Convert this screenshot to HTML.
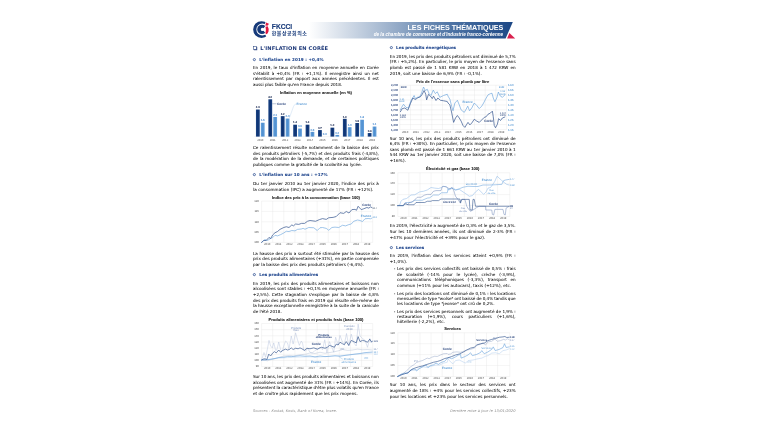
<!DOCTYPE html>
<html lang="fr">
<head>
<meta charset="utf-8">
<title>L'inflation en Corée</title>
<style>
html,body{margin:0;padding:0;background:#fff;}
body{width:768px;height:432px;overflow:hidden;position:relative;}
#page{position:absolute;left:0;top:0;width:768px;height:432px;overflow:hidden;font-family:"DejaVu Sans","Liberation Sans",sans-serif;}
header,section,footer,figure,figcaption,p,ul,li,h1,h2{margin:0;padding:0;font:inherit;list-style:none;}
.ln{display:block;position:absolute;white-space:nowrap;line-height:0;height:0;margin:0;padding:0;}
.ln.t{font-size:4.12px;color:#111;-webkit-text-stroke:0.05px #111;}
.ln.h1{font-size:5.13px;font-weight:bold;color:#1f3a7a;letter-spacing:0.11px;}
.ln.h2{font-size:4.1px;font-weight:bold;color:#1d448c;-webkit-text-stroke:0.05px #1d448c;}
.ln.src{font-size:3.6px;font-style:italic;color:#8a8a8a;letter-spacing:0.07px;}
.ln.ct{font-family:"Liberation Sans",sans-serif;font-weight:bold;font-size:4.1px;color:#111;text-align:center;-webkit-text-stroke:0.06px #111;}
.ln.bt{font-family:"Liberation Sans",sans-serif;font-weight:bold;color:#fff;}
svg{position:absolute;overflow:visible;}
svg text{font-family:"Liberation Sans",sans-serif;}

</style>
</head>
<body>
<div id="page">
<header>
<svg style="left:0;top:0" width="768" height="60" viewBox="0 0 768 60">
<defs><linearGradient id="bg" x1="0" x2="1" y1="0" y2="0">
<stop offset="0" stop-color="#ffffff"/><stop offset="0.35" stop-color="#a9bbd2"/><stop offset="0.7" stop-color="#4d73a4"/><stop offset="1" stop-color="#1c4785"/></linearGradient></defs>
<polygon points="309,22 512.8,22 505.6,38.4 309,38.4" fill="url(#bg)"/>
<polygon points="509.4,33.1 515.2,38.4 507.1,38.4" fill="#d9214e"/>
<g transform="translate(0,0.35)">
<clipPath id="c1"><polygon points="262.30,29.20 267.99,16.41 248.30,15.20 248.30,43.20 269.30,41.32"/></clipPath>
<clipPath id="c2"><polygon points="262.60,29.05 271.22,18.02 248.60,15.05 248.60,43.05 271.22,40.08"/></clipPath>
<path d="M253.15,29.20a8.4,8.4 0 1 0 16.80,0a8.4,8.4 0 1 0 -16.80,0ZM256.35,29.20a5.95,5.95 0 1 0 11.90,0a5.95,5.95 0 1 0 -11.90,0Z" fill="#173a7a" fill-rule="evenodd" clip-path="url(#c1)"/>
<path d="M257.20,29.05a4.7,4.7 0 1 0 9.40,0a4.7,4.7 0 1 0 -9.40,0ZM260.80,29.05a1.7,1.7 0 1 0 3.40,0a1.7,1.7 0 1 0 -3.40,0Z" fill="#173a7a" fill-rule="evenodd" clip-path="url(#c2)"/>
<path d="M266.0,22.1 L268.9,23.5 L267.9,25.1 L265.4,25.5 Z" fill="#e0173f"/>
<path d="M265.5,26.3 L267.7,25.8 Q269.2,28.3 268.5,31.2 Q267.8,33.1 266.6,33.9 L265.4,32.9 Q266.4,29.6 265.5,26.3 Z" fill="#e0173f"/>
</g>
</svg>
<div class="ln bt" style="left:271.80px;top:27px;font-size:6.7px;color:#173a7a;-webkit-text-stroke:0.12px #173a7a;">FKCCI</div>
<div class="ln bt" style="left:271.80px;top:33px;font-size:4.98px;color:#173a7a;font-weight:700;letter-spacing:0.5px;font-family:'Liberation Sans','Noto Sans CJK KR','NanumGothic',sans-serif;">한불상공회의소</div>
<div class="ln bt" style="left:407.50px;top:28px;font-size:7.18px;width:96px;text-align:right;left:407.4px;">LES FICHES THÉMATIQUES</div>
<div class="ln bt" style="left:373.70px;top:35px;font-size:4.62px;font-style:italic;">de la chambre de commerce et d'industrie franco-coréenne</div>
</header>
<section class="col">
<svg style="left:253.2px;top:46.2px" width="5" height="5" viewBox="0 0 5 5"><rect x="0.9" y="0.9" width="3.3" height="3.3" fill="#1f3a7a"/><rect x="0.35" y="0.35" width="3.1" height="3.1" fill="#fff" stroke="#1f3a7a" stroke-width="0.5"/></svg>
<h1 class="ln h1" style="left:260.20px;top:48px;">L'INFLATION EN CORÉE</h1>
<svg style="left:252.00px;top:57px" width="5" height="5" viewBox="0 0 5 5"><circle cx="2.35" cy="2.6" r="1.08" fill="none" stroke="#2b4d8f" stroke-width="0.8"/></svg>
<h2 class="ln h2" style="left:259.30px;top:60px;letter-spacing:0.07px;">L'inflation en 2019 : +0,4%</h2>
<p>
<span class="ln t" style="left:253.00px;top:68px;word-spacing:0.509px;">En 2019, le taux d'inflation en moyenne annuelle en Corée</span>
<span class="ln t" style="left:253.00px;top:74px;word-spacing:1.016px;">s'établit à +0,4% (FR : +1,1%). Il enregistre ainsi un net</span>
<span class="ln t" style="left:253.00px;top:79px;word-spacing:0.833px;">ralentissement par rapport aux années précédentes. Il est</span>
<span class="ln t" style="left:253.00px;top:85px;letter-spacing:0.009px;">aussi plus faible qu'en France depuis 2018.</span>
</p>
<figure>
<figcaption class="ln ct" style="left:253.00px;top:93px;width:125.80px;">Inflation en moyenne annuelle (en %)</figcaption>
<svg style="left:0;top:0" width="768" height="432" viewBox="0 0 768 432">
<defs><linearGradient id="gk" x1="0" x2="1" y1="0" y2="0"><stop offset="0" stop-color="#1d4686"/><stop offset="0.5" stop-color="#0d3272"/><stop offset="1" stop-color="#1d4686"/></linearGradient><linearGradient id="gf" x1="0" x2="1" y1="0" y2="0"><stop offset="0" stop-color="#68a3dc"/><stop offset="0.5" stop-color="#4f8fd0"/><stop offset="1" stop-color="#68a3dc"/></linearGradient></defs>
<path d="M254.3,136.6H378" stroke="#d9d9d9" stroke-width="0.3" fill="none"/>
<rect x="255.95" y="109.53" width="3.8" height="27.07" fill="url(#gk)"/>
<rect x="260.85" y="122.74" width="3.8" height="13.86" fill="url(#gf)"/>
<text x="257.80" y="108.23" font-size="2.8" fill="#16264f" text-anchor="middle" font-weight="bold" text-rendering="geometricPrecision" stroke="#16264f" stroke-width="0.06">2.9</text>
<text x="262.70" y="121.44" font-size="2.8" fill="#4f90d2" text-anchor="middle" font-weight="bold" text-rendering="geometricPrecision" stroke="#4f90d2" stroke-width="0.05">1.5</text>
<text x="260.25" y="140.80" font-size="2.8" fill="#4d4d4d" text-anchor="middle" text-rendering="geometricPrecision">2010</text>
<rect x="268.37" y="99.30" width="3.8" height="37.30" fill="url(#gk)"/>
<rect x="273.27" y="116.97" width="3.8" height="19.63" fill="url(#gf)"/>
<text x="270.22" y="98.00" font-size="2.8" fill="#16264f" text-anchor="middle" font-weight="bold" text-rendering="geometricPrecision" stroke="#16264f" stroke-width="0.06">4.0</text>
<text x="275.12" y="115.67" font-size="2.8" fill="#4f90d2" text-anchor="middle" font-weight="bold" text-rendering="geometricPrecision" stroke="#4f90d2" stroke-width="0.05">2.1</text>
<text x="272.67" y="140.80" font-size="2.8" fill="#4d4d4d" text-anchor="middle" text-rendering="geometricPrecision">2011</text>
<rect x="280.79" y="116.13" width="3.8" height="20.47" fill="url(#gk)"/>
<rect x="285.69" y="118.55" width="3.8" height="18.05" fill="url(#gf)"/>
<text x="282.64" y="114.83" font-size="2.8" fill="#16264f" text-anchor="middle" font-weight="bold" text-rendering="geometricPrecision" stroke="#16264f" stroke-width="0.06">2.2</text>
<text x="287.54" y="117.25" font-size="2.8" fill="#4f90d2" text-anchor="middle" font-weight="bold" text-rendering="geometricPrecision" stroke="#4f90d2" stroke-width="0.05">2.0</text>
<text x="285.09" y="140.80" font-size="2.8" fill="#4d4d4d" text-anchor="middle" text-rendering="geometricPrecision">2012</text>
<rect x="293.21" y="124.69" width="3.8" height="11.91" fill="url(#gk)"/>
<rect x="298.11" y="128.59" width="3.8" height="8.01" fill="url(#gf)"/>
<text x="295.06" y="123.39" font-size="2.8" fill="#16264f" text-anchor="middle" font-weight="bold" text-rendering="geometricPrecision" stroke="#16264f" stroke-width="0.06">1.3</text>
<text x="299.96" y="127.30" font-size="2.8" fill="#4f90d2" text-anchor="middle" font-weight="bold" text-rendering="geometricPrecision" stroke="#4f90d2" stroke-width="0.05">0.9</text>
<text x="297.51" y="140.80" font-size="2.8" fill="#4d4d4d" text-anchor="middle" text-rendering="geometricPrecision">2013</text>
<rect x="305.63" y="124.69" width="3.8" height="11.91" fill="url(#gk)"/>
<rect x="310.53" y="131.85" width="3.8" height="4.75" fill="url(#gf)"/>
<text x="307.48" y="123.39" font-size="2.8" fill="#16264f" text-anchor="middle" font-weight="bold" text-rendering="geometricPrecision" stroke="#16264f" stroke-width="0.06">1.3</text>
<text x="312.38" y="130.55" font-size="2.8" fill="#4f90d2" text-anchor="middle" font-weight="bold" text-rendering="geometricPrecision" stroke="#4f90d2" stroke-width="0.05">0.5</text>
<text x="309.93" y="140.80" font-size="2.8" fill="#4d4d4d" text-anchor="middle" text-rendering="geometricPrecision">2014</text>
<rect x="318.05" y="130.08" width="3.8" height="6.52" fill="url(#gk)"/>
<text x="319.90" y="128.78" font-size="2.8" fill="#16264f" text-anchor="middle" font-weight="bold" text-rendering="geometricPrecision" stroke="#16264f" stroke-width="0.06">0.7</text>
<text x="324.80" y="135.20" font-size="2.8" fill="#4f90d2" text-anchor="middle" font-weight="bold" text-rendering="geometricPrecision" stroke="#4f90d2" stroke-width="0.05">0.0</text>
<text x="322.35" y="140.80" font-size="2.8" fill="#4d4d4d" text-anchor="middle" text-rendering="geometricPrecision">2015</text>
<rect x="330.47" y="127.66" width="3.8" height="8.94" fill="url(#gk)"/>
<rect x="335.37" y="134.92" width="3.8" height="1.68" fill="url(#gf)"/>
<text x="332.32" y="126.36" font-size="2.8" fill="#16264f" text-anchor="middle" font-weight="bold" text-rendering="geometricPrecision" stroke="#16264f" stroke-width="0.06">1.0</text>
<text x="337.22" y="133.62" font-size="2.8" fill="#4f90d2" text-anchor="middle" font-weight="bold" text-rendering="geometricPrecision" stroke="#4f90d2" stroke-width="0.05">0.2</text>
<text x="334.77" y="140.80" font-size="2.8" fill="#4d4d4d" text-anchor="middle" text-rendering="geometricPrecision">2016</text>
<rect x="342.89" y="118.83" width="3.8" height="17.77" fill="url(#gk)"/>
<rect x="347.79" y="127.20" width="3.8" height="9.40" fill="url(#gf)"/>
<text x="344.74" y="117.53" font-size="2.8" fill="#16264f" text-anchor="middle" font-weight="bold" text-rendering="geometricPrecision" stroke="#16264f" stroke-width="0.06">1.9</text>
<text x="349.64" y="125.90" font-size="2.8" fill="#4f90d2" text-anchor="middle" font-weight="bold" text-rendering="geometricPrecision" stroke="#4f90d2" stroke-width="0.05">1.0</text>
<text x="347.19" y="140.80" font-size="2.8" fill="#4d4d4d" text-anchor="middle" text-rendering="geometricPrecision">2017</text>
<rect x="355.31" y="123.02" width="3.8" height="13.59" fill="url(#gk)"/>
<rect x="360.21" y="119.76" width="3.8" height="16.84" fill="url(#gf)"/>
<text x="357.16" y="121.72" font-size="2.8" fill="#16264f" text-anchor="middle" font-weight="bold" text-rendering="geometricPrecision" stroke="#16264f" stroke-width="0.06">1.5</text>
<text x="362.06" y="118.46" font-size="2.8" fill="#4f90d2" text-anchor="middle" font-weight="bold" text-rendering="geometricPrecision" stroke="#4f90d2" stroke-width="0.05">1.8</text>
<text x="359.61" y="140.80" font-size="2.8" fill="#4d4d4d" text-anchor="middle" text-rendering="geometricPrecision">2018</text>
<rect x="367.73" y="133.06" width="3.8" height="3.54" fill="url(#gk)"/>
<rect x="372.63" y="126.55" width="3.8" height="10.05" fill="url(#gf)"/>
<text x="369.58" y="131.76" font-size="2.8" fill="#16264f" text-anchor="middle" font-weight="bold" text-rendering="geometricPrecision" stroke="#16264f" stroke-width="0.06">0.4</text>
<text x="374.48" y="125.25" font-size="2.8" fill="#4f90d2" text-anchor="middle" font-weight="bold" text-rendering="geometricPrecision" stroke="#4f90d2" stroke-width="0.05">1.1</text>
<text x="372.03" y="140.80" font-size="2.8" fill="#4d4d4d" text-anchor="middle" text-rendering="geometricPrecision">2019</text>
<path d="M272.3,103.75H276.4" stroke="#1f3f7d" stroke-width="0.3" fill="none"/>
<text x="277.00" y="104.60" font-size="3.15" fill="#223e78" text-anchor="start" font-weight="bold" text-rendering="geometricPrecision">Corée</text>
<path d="M289.3,118.2 L293.5,106.5 Q294.5,104 296.2,103.9" stroke="#9dc3e6" stroke-width="0.3" fill="none"/>
<text x="296.60" y="104.60" font-size="3.15" fill="#5b9bd5" text-anchor="start" font-weight="bold" text-rendering="geometricPrecision">France</text>
</svg>
</figure>
<p>
<span class="ln t" style="left:253.00px;top:148px;word-spacing:0.496px;">Ce ralentissement résulte notamment de la baisse des prix</span>
<span class="ln t" style="left:253.00px;top:154px;word-spacing:0.373px;">des produits pétroliers (-5,7%) et des produits frais (-4,8%),</span>
<span class="ln t" style="left:253.00px;top:159px;word-spacing:0.407px;">de la modération de la demande, et de certaines politiques</span>
<span class="ln t" style="left:253.00px;top:165px;letter-spacing:-0.009px;">publiques comme la gratuité de la scolarité au lycée.</span>
</p>
<svg style="left:252.00px;top:172px" width="5" height="5" viewBox="0 0 5 5"><circle cx="2.35" cy="2.6" r="1.08" fill="none" stroke="#2b4d8f" stroke-width="0.8"/></svg>
<h2 class="ln h2" style="left:259.30px;top:175px;letter-spacing:0.07px;">L'inflation sur 10 ans : +17%</h2>
<p>
<span class="ln t" style="left:253.00px;top:184px;word-spacing:0.392px;">Du 1er janvier 2010 au 1er janvier 2020, l'indice des prix à</span>
<span class="ln t" style="left:253.00px;top:190px;letter-spacing:0.065px;">la consommation (IPC) a augmenté de 17% (FR : +12%).</span>
</p>
<figure>
<figcaption class="ln ct" style="left:253.00px;top:198px;width:125.80px;">Indice des prix à la consommation (base 100)</figcaption>
<svg style="left:0;top:0" width="768" height="432" viewBox="0 0 768 432">
<path d="M261.60,201.10H372.70M261.60,211.45H372.70M261.60,221.80H372.70M261.60,232.10H372.70M261.60,242.40H372.70M261.60,201.10V242.40M272.71,201.10V242.40M283.82,201.10V242.40M294.93,201.10V242.40M306.04,201.10V242.40M317.15,201.10V242.40M328.26,201.10V242.40M339.37,201.10V242.40M350.48,201.10V242.40M361.59,201.10V242.40M372.70,201.10V242.40" fill="none" stroke="#e2e2e2" stroke-width="0.35"/>
<text x="258.90" y="201.90" font-size="2.8" fill="#4d4d4d" text-anchor="end" text-rendering="geometricPrecision">120</text>
<text x="258.90" y="212.25" font-size="2.8" fill="#4d4d4d" text-anchor="end" text-rendering="geometricPrecision">115</text>
<text x="258.90" y="222.60" font-size="2.8" fill="#4d4d4d" text-anchor="end" text-rendering="geometricPrecision">110</text>
<text x="258.90" y="232.90" font-size="2.8" fill="#4d4d4d" text-anchor="end" text-rendering="geometricPrecision">105</text>
<text x="258.90" y="243.20" font-size="2.8" fill="#4d4d4d" text-anchor="end" text-rendering="geometricPrecision">100</text>
<text x="267.16" y="245.30" font-size="2.8" fill="#4d4d4d" text-anchor="middle" text-rendering="geometricPrecision">2010</text>
<text x="278.27" y="245.30" font-size="2.8" fill="#4d4d4d" text-anchor="middle" text-rendering="geometricPrecision">2011</text>
<text x="289.38" y="245.30" font-size="2.8" fill="#4d4d4d" text-anchor="middle" text-rendering="geometricPrecision">2012</text>
<text x="300.49" y="245.30" font-size="2.8" fill="#4d4d4d" text-anchor="middle" text-rendering="geometricPrecision">2013</text>
<text x="311.60" y="245.30" font-size="2.8" fill="#4d4d4d" text-anchor="middle" text-rendering="geometricPrecision">2014</text>
<text x="322.71" y="245.30" font-size="2.8" fill="#4d4d4d" text-anchor="middle" text-rendering="geometricPrecision">2015</text>
<text x="333.82" y="245.30" font-size="2.8" fill="#4d4d4d" text-anchor="middle" text-rendering="geometricPrecision">2016</text>
<text x="344.93" y="245.30" font-size="2.8" fill="#4d4d4d" text-anchor="middle" text-rendering="geometricPrecision">2017</text>
<text x="356.04" y="245.30" font-size="2.8" fill="#4d4d4d" text-anchor="middle" text-rendering="geometricPrecision">2018</text>
<text x="367.14" y="245.30" font-size="2.8" fill="#4d4d4d" text-anchor="middle" text-rendering="geometricPrecision">2019</text>
<polyline points="261.62,242.38 263.75,240.25 265.00,239.62 267.50,240.50 270.62,238.38 272.50,237.75 275.00,235.25 277.50,235.88 280.62,234.62 283.75,233.00 286.25,231.25 289.00,231.50 291.88,230.50 295.00,230.88 297.50,229.38 301.25,229.00 303.12,228.38 305.00,229.25 308.75,227.50 313.75,227.75 317.25,230.50 320.00,227.75 322.50,227.50 326.25,228.38 328.75,230.25 331.88,227.50 335.00,227.12 338.75,227.50 342.50,225.25 345.62,225.88 348.75,224.62 351.25,224.00 353.75,221.25 357.50,220.00 360.00,220.50 362.50,221.50 365.00,218.75 368.12,218.50 370.62,218.75 372.12,218.00" fill="none" stroke="#6fa8df" stroke-width="0.66" stroke-linejoin="round" stroke-linecap="round"/>
<polyline points="261.62,242.38 263.75,240.50 266.25,240.50 269.00,237.38 270.62,238.62 272.75,234.88 275.00,232.75 277.50,231.50 280.00,229.38 283.75,227.50 286.25,226.75 289.00,227.50 291.88,224.88 293.38,225.88 295.62,224.00 298.75,224.38 301.50,223.38 304.62,223.38 307.50,221.25 310.00,220.50 315.62,221.25 319.38,219.62 322.50,218.62 326.25,219.38 328.75,217.75 333.12,217.38 336.25,216.50 340.00,212.75 343.75,213.38 346.25,211.50 349.00,213.00 351.88,209.62 355.00,209.38 356.50,210.25 358.12,206.25 361.25,209.62 363.75,208.75 366.88,207.50 368.75,208.12 370.62,206.88 372.12,207.75" fill="none" stroke="#36578f" stroke-width="0.72" stroke-linejoin="round" stroke-linecap="round"/>
<text x="366.60" y="205.70" font-size="3.15" fill="#223e78" text-anchor="middle" font-weight="bold" text-rendering="geometricPrecision">Corée</text>
<text x="366.00" y="216.80" font-size="3.15" fill="#5b9bd5" text-anchor="middle" font-weight="bold" text-rendering="geometricPrecision">France</text>
<text x="372.60" y="208.70" font-size="2.7" fill="#44546a" text-anchor="start" text-rendering="geometricPrecision">117</text>
<text x="372.60" y="217.90" font-size="2.7" fill="#5b9bd5" text-anchor="start" text-rendering="geometricPrecision">112</text>
</svg>
</figure>
<p>
<span class="ln t" style="left:253.00px;top:254px;word-spacing:0.270px;">La hausse des prix a surtout été stimulée par la hausse des</span>
<span class="ln t" style="left:253.00px;top:259px;word-spacing:0.166px;">prix des produits alimentaires (+31%), en partie compensée</span>
<span class="ln t" style="left:253.00px;top:265px;letter-spacing:0.034px;">par la baisse des prix des produits pétroliers (-6,4%).</span>
</p>
<svg style="left:252.00px;top:272px" width="5" height="5" viewBox="0 0 5 5"><circle cx="2.35" cy="2.6" r="1.08" fill="none" stroke="#2b4d8f" stroke-width="0.8"/></svg>
<h2 class="ln h2" style="left:259.30px;top:275px;letter-spacing:0.0px;">Les produits alimentaires</h2>
<p>
<span class="ln t" style="left:253.00px;top:284px;word-spacing:0.460px;">En 2019, les prix des produits alimentaires et boissons non</span>
<span class="ln t" style="left:253.00px;top:289px;word-spacing:0.268px;">alcoolisées sont stables : +0,1% en moyenne annuelle (FR :</span>
<span class="ln t" style="left:253.00px;top:295px;word-spacing:0.702px;">+2,5%). Cette stagnation s'explique par la baisse de 4,8%</span>
<span class="ln t" style="left:253.00px;top:301px;word-spacing:0.141px;">des prix des produits frais en 2019 qui résulte elle-même de</span>
<span class="ln t" style="left:253.00px;top:306px;word-spacing:0.037px;">la hausse exceptionnelle enregistrée à la suite de la canicule</span>
<span class="ln t" style="left:253.00px;top:312px;letter-spacing:0.018px;">de l'été 2018.</span>
</p>
<figure>
<figcaption class="ln ct" style="left:253.00px;top:320px;width:125.80px;">Produits alimentaires et produits frais (base 100)</figcaption>
<svg style="left:0;top:0" width="768" height="432" viewBox="0 0 768 432">
<path d="M261.60,323.50H372.70M261.60,329.66H372.70M261.60,335.82H372.70M261.60,341.98H372.70M261.60,348.14H372.70M261.60,354.30H372.70M261.60,360.46H372.70M261.60,366.62H372.70M261.60,323.50V366.62M272.71,323.50V366.62M283.82,323.50V366.62M294.93,323.50V366.62M306.04,323.50V366.62M317.15,323.50V366.62M328.26,323.50V366.62M339.37,323.50V366.62M350.48,323.50V366.62M361.59,323.50V366.62M372.70,323.50V366.62" fill="none" stroke="#e2e2e2" stroke-width="0.35"/>
<text x="258.90" y="324.30" font-size="2.8" fill="#4d4d4d" text-anchor="end" text-rendering="geometricPrecision">160</text>
<text x="258.90" y="330.46" font-size="2.8" fill="#4d4d4d" text-anchor="end" text-rendering="geometricPrecision">150</text>
<text x="258.90" y="336.62" font-size="2.8" fill="#4d4d4d" text-anchor="end" text-rendering="geometricPrecision">140</text>
<text x="258.90" y="342.78" font-size="2.8" fill="#4d4d4d" text-anchor="end" text-rendering="geometricPrecision">130</text>
<text x="258.90" y="348.94" font-size="2.8" fill="#4d4d4d" text-anchor="end" text-rendering="geometricPrecision">120</text>
<text x="258.90" y="355.10" font-size="2.8" fill="#4d4d4d" text-anchor="end" text-rendering="geometricPrecision">110</text>
<text x="258.90" y="361.26" font-size="2.8" fill="#4d4d4d" text-anchor="end" text-rendering="geometricPrecision">100</text>
<text x="258.90" y="367.42" font-size="2.8" fill="#4d4d4d" text-anchor="end" text-rendering="geometricPrecision">90</text>
<text x="267.16" y="369.30" font-size="2.8" fill="#4d4d4d" text-anchor="middle" text-rendering="geometricPrecision">2010</text>
<text x="278.27" y="369.30" font-size="2.8" fill="#4d4d4d" text-anchor="middle" text-rendering="geometricPrecision">2011</text>
<text x="289.38" y="369.30" font-size="2.8" fill="#4d4d4d" text-anchor="middle" text-rendering="geometricPrecision">2012</text>
<text x="300.49" y="369.30" font-size="2.8" fill="#4d4d4d" text-anchor="middle" text-rendering="geometricPrecision">2013</text>
<text x="311.60" y="369.30" font-size="2.8" fill="#4d4d4d" text-anchor="middle" text-rendering="geometricPrecision">2014</text>
<text x="322.71" y="369.30" font-size="2.8" fill="#4d4d4d" text-anchor="middle" text-rendering="geometricPrecision">2015</text>
<text x="333.82" y="369.30" font-size="2.8" fill="#4d4d4d" text-anchor="middle" text-rendering="geometricPrecision">2016</text>
<text x="344.93" y="369.30" font-size="2.8" fill="#4d4d4d" text-anchor="middle" text-rendering="geometricPrecision">2017</text>
<text x="356.04" y="369.30" font-size="2.8" fill="#4d4d4d" text-anchor="middle" text-rendering="geometricPrecision">2018</text>
<text x="367.14" y="369.30" font-size="2.8" fill="#4d4d4d" text-anchor="middle" text-rendering="geometricPrecision">2019</text>
<polyline points="261.62,360.00 262.50,357.25 264.00,352.50 265.62,357.25 267.50,348.50 269.00,340.38 270.62,346.00 272.25,347.88 273.75,342.88 275.62,350.38 276.88,349.75 278.75,342.00 280.62,349.75 282.25,351.00 283.75,346.00 285.62,341.00 287.50,342.88 289.00,349.12 291.25,336.00 293.12,344.12 295.62,332.88 297.50,339.75 299.38,345.38 301.25,341.00 302.50,342.88 303.75,349.75 305.62,351.00 307.50,348.25 310.00,352.25 312.50,352.88 315.00,350.38 317.50,349.12 320.00,347.25 322.50,349.75 324.75,339.75 326.88,352.88 329.38,341.62 331.88,347.25 333.75,352.25 335.62,337.25 338.12,344.75 340.00,335.38 342.50,342.25 344.38,344.12 346.50,333.50 348.75,346.00 351.25,334.12 353.75,342.88 356.25,346.00 358.12,324.12 360.00,336.00 362.50,338.50 365.00,340.38 367.50,347.25 369.75,338.50 371.25,342.88 372.25,341.00" fill="none" stroke="#a9b9d6" stroke-width="0.4" stroke-linejoin="round" stroke-linecap="round"/>
<polyline points="261.62,360.00 268.75,359.50 275.00,358.62 287.50,357.62 300.00,357.12 310.00,356.88 317.50,357.25 322.50,356.75 335.00,356.00 347.50,355.12 355.00,354.25 360.00,354.00 366.25,353.50 372.25,353.00" fill="none" stroke="#a8c8ec" stroke-width="0.35" stroke-linejoin="round" stroke-linecap="round"/>
<polyline points="261.62,360.00 267.50,360.75 272.50,359.12 277.50,357.88 283.75,356.00 290.00,355.38 293.75,356.00 300.00,354.75 306.25,354.12 310.00,352.88 315.00,353.50 320.00,352.25 325.00,353.25 330.00,352.50 335.00,351.62 340.00,350.38 342.50,349.50 347.50,350.38 352.50,350.00 357.50,349.12 362.50,349.75 367.50,349.50 372.25,350.00" fill="none" stroke="#9aaac8" stroke-width="0.35" stroke-linejoin="round" stroke-linecap="round"/>
<polyline points="261.62,360.00 266.25,359.75 270.00,359.38 275.00,358.50 278.75,357.50 283.75,357.25 287.50,356.62 291.25,356.62 295.00,356.25 300.00,355.75 305.00,356.25 310.00,356.00 315.00,356.88 320.00,356.00 325.00,356.62 330.00,356.25 335.00,355.75 340.00,356.25 345.00,355.38 350.00,354.75 355.00,354.12 360.00,353.50 365.00,352.62 370.00,352.25 372.25,352.00" fill="none" stroke="#63a0da" stroke-width="0.6" stroke-linejoin="round" stroke-linecap="round"/>
<polyline points="261.62,360.00 263.12,359.12 265.00,358.75 266.88,359.50 268.75,354.12 270.62,356.00 272.50,353.25 274.38,351.62 276.25,352.88 278.75,350.00 280.62,352.25 282.75,350.38 285.62,349.12 287.50,350.00 289.38,349.50 291.25,347.88 293.12,349.50 295.62,348.25 298.12,348.75 300.00,347.88 301.88,348.75 304.38,350.38 306.88,348.25 310.00,348.75 313.75,347.88 317.50,349.12 321.25,347.25 325.00,348.25 327.50,347.25 329.38,345.38 331.88,346.25 334.38,347.25 336.25,344.12 338.12,345.00 340.00,342.25 342.50,343.75 344.38,344.75 346.25,341.62 348.75,345.38 351.25,340.38 353.75,341.62 356.25,342.88 358.12,336.62 360.00,341.62 362.50,340.38 365.00,341.00 367.50,342.25 369.75,339.12 371.25,341.62 372.25,341.38" fill="none" stroke="#36578f" stroke-width="0.68" stroke-linejoin="round" stroke-linecap="round"/>
<text x="296.00" y="328.60" font-size="2.75" fill="#7d93bd" text-anchor="middle" text-rendering="geometricPrecision">Produits</text>
<text x="296.00" y="331.10" font-size="2.75" fill="#7d93bd" text-anchor="middle" text-rendering="geometricPrecision">frais</text>
<text x="349.40" y="327.00" font-size="2.75" fill="#7d93bd" text-anchor="middle" text-rendering="geometricPrecision">Canicule</text>
<text x="349.40" y="329.50" font-size="2.75" fill="#7d93bd" text-anchor="middle" text-rendering="geometricPrecision">2018</text>
<text x="323.80" y="335.50" font-size="2.75" fill="#223e78" text-anchor="middle" font-weight="bold" text-rendering="geometricPrecision">Produits</text>
<text x="323.80" y="338.10" font-size="2.75" fill="#223e78" text-anchor="middle" font-weight="bold" text-rendering="geometricPrecision">alimentaires</text>
<text x="316.30" y="344.50" font-size="3.15" fill="#223e78" text-anchor="middle" font-weight="bold" text-rendering="geometricPrecision">Corée</text>
<text x="316.20" y="363.40" font-size="3.15" fill="#5b9bd5" text-anchor="middle" font-weight="bold" text-rendering="geometricPrecision">France</text>
<text x="348.80" y="360.20" font-size="2.75" fill="#5b9bd5" text-anchor="middle" text-rendering="geometricPrecision">Produits</text>
<text x="348.80" y="362.70" font-size="2.75" fill="#5b9bd5" text-anchor="middle" text-rendering="geometricPrecision">alimentaires</text>
<path d="M338.8,356.6L342.8,359.2" stroke="#5b9bd5" stroke-width="0.3" fill="none"/>
<text x="342.30" y="350.30" font-size="2.5" fill="#7d93bd" text-anchor="middle" text-rendering="geometricPrecision">IPC</text>
<text x="366.30" y="359.30" font-size="2.5" fill="#5b9bd5" text-anchor="middle" text-rendering="geometricPrecision">IPC</text>
<text x="373.40" y="342.20" font-size="2.7" fill="#223e78" text-anchor="start" text-rendering="geometricPrecision">131</text>
<text x="373.40" y="350.30" font-size="2.7" fill="#7d93bd" text-anchor="start" text-rendering="geometricPrecision">117</text>
<text x="373.40" y="352.60" font-size="2.7" fill="#5b9bd5" text-anchor="start" text-rendering="geometricPrecision">114</text>
<text x="373.40" y="354.70" font-size="2.7" fill="#9dc3e6" text-anchor="start" text-rendering="geometricPrecision">112</text>
</svg>
</figure>
<p>
<span class="ln t" style="left:253.00px;top:377px;word-spacing:-0.090px;">Sur 10 ans, les prix des produits alimentaires et boissons non</span>
<span class="ln t" style="left:253.00px;top:383px;word-spacing:0.149px;">alcoolisées ont augmenté de 31% (FR : +14%). En Corée, ils</span>
<span class="ln t" style="left:253.00px;top:388px;word-spacing:-0.073px;">présentent la caractéristique d'être plus volatils qu'en France</span>
<span class="ln t" style="left:253.00px;top:394px;letter-spacing:0.009px;">et de croître plus rapidement que les prix moyens.</span>
</p>
</section>
<section class="col">
<svg style="left:388.80px;top:45px" width="5" height="5" viewBox="0 0 5 5"><circle cx="2.35" cy="2.6" r="1.08" fill="none" stroke="#2b4d8f" stroke-width="0.8"/></svg>
<h2 class="ln h2" style="left:396.10px;top:48px;letter-spacing:-0.03px;">Les produits énergétiques</h2>
<p>
<span class="ln t" style="left:389.80px;top:57px;word-spacing:-0.047px;">En 2019, les prix des produits pétroliers ont diminué de 5,7%</span>
<span class="ln t" style="left:389.80px;top:62px;word-spacing:0.113px;">(FR : +5,2%). En particulier, le prix moyen de l'essence sans</span>
<span class="ln t" style="left:389.80px;top:68px;word-spacing:0.733px;">plomb est passé de 1 581 KRW en 2018 à 1 472 KRW en</span>
<span class="ln t" style="left:389.80px;top:74px;letter-spacing:0.071px;">2019, soit une baisse de 6,9% (FR : -0,1%).</span>
</p>
<figure>
<figcaption class="ln ct" style="left:389.80px;top:82px;width:125.80px;">Prix de l'essence sans plomb par litre</figcaption>
<svg style="left:0;top:0" width="768" height="432" viewBox="0 0 768 432">
<path d="M399.75,85.25H506.55M399.75,90.17H506.55M399.75,95.08H506.55M399.75,100.00H506.55M399.75,104.92H506.55M399.75,109.84H506.55M399.75,114.75H506.55M399.75,119.67H506.55M399.75,124.59H506.55M399.75,129.50H506.55M399.75,85.25V129.50M410.43,85.25V129.50M421.11,85.25V129.50M431.79,85.25V129.50M442.47,85.25V129.50M453.15,85.25V129.50M463.83,85.25V129.50M474.51,85.25V129.50M485.19,85.25V129.50M495.87,85.25V129.50M506.55,85.25V129.50" fill="none" stroke="#e2e2e2" stroke-width="0.35"/>
<text x="398.00" y="86.35" font-size="2.8" fill="#223e78" text-anchor="end" font-weight="bold" text-rendering="geometricPrecision">2,200</text>
<text x="508.00" y="86.35" font-size="2.8" fill="#5b9bd5" text-anchor="start" font-weight="bold" text-rendering="geometricPrecision">1.60</text>
<text x="398.00" y="91.27" font-size="2.8" fill="#223e78" text-anchor="end" font-weight="bold" text-rendering="geometricPrecision">2,100</text>
<text x="508.00" y="91.27" font-size="2.8" fill="#5b9bd5" text-anchor="start" font-weight="bold" text-rendering="geometricPrecision">1.55</text>
<text x="398.00" y="96.18" font-size="2.8" fill="#223e78" text-anchor="end" font-weight="bold" text-rendering="geometricPrecision">2,000</text>
<text x="508.00" y="96.18" font-size="2.8" fill="#5b9bd5" text-anchor="start" font-weight="bold" text-rendering="geometricPrecision">1.50</text>
<text x="398.00" y="101.10" font-size="2.8" fill="#223e78" text-anchor="end" font-weight="bold" text-rendering="geometricPrecision">1,900</text>
<text x="508.00" y="101.10" font-size="2.8" fill="#5b9bd5" text-anchor="start" font-weight="bold" text-rendering="geometricPrecision">1.45</text>
<text x="398.00" y="106.02" font-size="2.8" fill="#223e78" text-anchor="end" font-weight="bold" text-rendering="geometricPrecision">1,800</text>
<text x="508.00" y="106.02" font-size="2.8" fill="#5b9bd5" text-anchor="start" font-weight="bold" text-rendering="geometricPrecision">1.40</text>
<text x="398.00" y="110.94" font-size="2.8" fill="#223e78" text-anchor="end" font-weight="bold" text-rendering="geometricPrecision">1,700</text>
<text x="508.00" y="110.94" font-size="2.8" fill="#5b9bd5" text-anchor="start" font-weight="bold" text-rendering="geometricPrecision">1.35</text>
<text x="398.00" y="115.85" font-size="2.8" fill="#223e78" text-anchor="end" font-weight="bold" text-rendering="geometricPrecision">1,600</text>
<text x="508.00" y="115.85" font-size="2.8" fill="#5b9bd5" text-anchor="start" font-weight="bold" text-rendering="geometricPrecision">1.30</text>
<text x="398.00" y="120.77" font-size="2.8" fill="#223e78" text-anchor="end" font-weight="bold" text-rendering="geometricPrecision">1,500</text>
<text x="508.00" y="120.77" font-size="2.8" fill="#5b9bd5" text-anchor="start" font-weight="bold" text-rendering="geometricPrecision">1.25</text>
<text x="398.00" y="125.69" font-size="2.8" fill="#223e78" text-anchor="end" font-weight="bold" text-rendering="geometricPrecision">1,400</text>
<text x="508.00" y="125.69" font-size="2.8" fill="#5b9bd5" text-anchor="start" font-weight="bold" text-rendering="geometricPrecision">1.20</text>
<text x="398.00" y="130.60" font-size="2.8" fill="#223e78" text-anchor="end" font-weight="bold" text-rendering="geometricPrecision">1,300</text>
<text x="508.00" y="130.60" font-size="2.8" fill="#5b9bd5" text-anchor="start" font-weight="bold" text-rendering="geometricPrecision">1.15</text>
<text x="405.09" y="132.60" font-size="2.8" fill="#4d4d4d" text-anchor="middle" text-rendering="geometricPrecision">2010</text>
<text x="415.77" y="132.60" font-size="2.8" fill="#4d4d4d" text-anchor="middle" text-rendering="geometricPrecision">2011</text>
<text x="426.45" y="132.60" font-size="2.8" fill="#4d4d4d" text-anchor="middle" text-rendering="geometricPrecision">2012</text>
<text x="437.13" y="132.60" font-size="2.8" fill="#4d4d4d" text-anchor="middle" text-rendering="geometricPrecision">2013</text>
<text x="447.81" y="132.60" font-size="2.8" fill="#4d4d4d" text-anchor="middle" text-rendering="geometricPrecision">2014</text>
<text x="458.49" y="132.60" font-size="2.8" fill="#4d4d4d" text-anchor="middle" text-rendering="geometricPrecision">2015</text>
<text x="469.17" y="132.60" font-size="2.8" fill="#4d4d4d" text-anchor="middle" text-rendering="geometricPrecision">2016</text>
<text x="479.85" y="132.60" font-size="2.8" fill="#4d4d4d" text-anchor="middle" text-rendering="geometricPrecision">2017</text>
<text x="490.53" y="132.60" font-size="2.8" fill="#4d4d4d" text-anchor="middle" text-rendering="geometricPrecision">2018</text>
<text x="501.21" y="132.60" font-size="2.8" fill="#4d4d4d" text-anchor="middle" text-rendering="geometricPrecision">2019</text>
<polyline points="400.38,109.88 401.62,107.38 403.50,104.25 406.00,107.38 408.50,108.00 411.00,100.50 414.12,95.50 415.38,98.62 417.25,97.38 419.75,96.75 421.62,93.00 423.50,87.00 425.38,90.50 427.25,89.25 429.12,93.62 431.00,95.50 433.25,90.12 435.38,93.62 437.25,91.75 439.75,97.38 443.50,95.50 447.25,94.25 448.00,96.12 449.88,99.25 451.75,106.75 453.00,110.75 454.88,103.00 457.38,100.25 459.25,104.88 461.12,109.88 464.25,112.38 466.12,109.25 467.75,106.12 469.50,110.75 471.75,108.00 474.25,103.00 476.75,105.50 479.25,108.62 481.75,106.12 483.62,103.00 485.50,99.25 488.00,94.88 490.50,93.62 492.00,93.25 493.25,98.00 494.88,101.75 496.75,98.00 498.38,92.00 499.88,95.50 502.38,97.38 504.88,94.88" fill="none" stroke="#6aa3dc" stroke-width="0.66" stroke-linejoin="round" stroke-linecap="round"/>
<polyline points="400.38,111.75 402.25,108.62 404.75,108.00 407.88,110.25 410.38,103.62 412.88,98.00 415.38,99.50 417.88,97.75 420.38,96.75 422.25,94.25 424.12,90.50 425.75,94.25 426.62,99.88 428.50,94.25 430.38,96.12 432.25,98.62 433.50,96.12 436.00,100.50 437.88,98.00 440.38,100.25 443.50,100.75 447.25,101.50 448.00,103.00 449.88,104.88 451.75,113.00 453.62,122.38 455.50,118.00 457.38,115.50 459.25,118.00 461.12,121.12 463.00,125.50 464.88,127.38 466.75,124.25 468.00,122.38 469.88,124.88 471.75,123.00 474.25,119.25 476.75,121.12 479.25,122.38 481.75,119.88 484.25,117.38 486.12,116.75 488.00,114.25 490.50,113.00 492.38,111.12 493.25,116.75 494.25,125.50 495.50,127.75 497.38,124.25 498.62,118.62 500.50,120.50 502.38,118.00 504.88,117.00" fill="none" stroke="#36578f" stroke-width="0.72" stroke-linejoin="round" stroke-linecap="round"/>
<text x="400.80" y="87.90" font-size="2.5" fill="#223e78" text-anchor="start" font-weight="bold" text-rendering="geometricPrecision">KRW</text>
<text x="504.40" y="87.90" font-size="2.5" fill="#5b9bd5" text-anchor="end" font-weight="bold" text-rendering="geometricPrecision">EUR</text>
<text x="402.00" y="100.20" font-size="2.5" fill="#5b9bd5" text-anchor="middle" text-rendering="geometricPrecision">1.31</text>
<text x="402.00" y="102.40" font-size="2.5" fill="#5b9bd5" text-anchor="middle" text-rendering="geometricPrecision">EUR</text>
<text x="403.00" y="115.70" font-size="2.5" fill="#223e78" text-anchor="middle" text-rendering="geometricPrecision">1,661</text>
<text x="403.00" y="118.30" font-size="2.5" fill="#223e78" text-anchor="middle" text-rendering="geometricPrecision">KRW</text>
<text x="502.80" y="92.30" font-size="2.5" fill="#5b9bd5" text-anchor="middle" text-rendering="geometricPrecision">1.52</text>
<text x="502.80" y="95.00" font-size="2.5" fill="#5b9bd5" text-anchor="middle" text-rendering="geometricPrecision">EUR</text>
<text x="503.00" y="113.80" font-size="2.5" fill="#223e78" text-anchor="middle" text-rendering="geometricPrecision">1,544</text>
<text x="503.00" y="116.10" font-size="2.5" fill="#223e78" text-anchor="middle" text-rendering="geometricPrecision">KRW</text>
<text x="467.60" y="103.00" font-size="3.15" fill="#5b9bd5" text-anchor="middle" font-weight="bold" text-rendering="geometricPrecision">France</text>
<text x="488.60" y="121.70" font-size="3.15" fill="#223e78" text-anchor="middle" font-weight="bold" text-rendering="geometricPrecision">Corée</text>
</svg>
</figure>
<p>
<span class="ln t" style="left:389.80px;top:139px;word-spacing:0.624px;">Sur 10 ans, les prix des produits pétroliers ont diminué de</span>
<span class="ln t" style="left:389.80px;top:144px;word-spacing:0.139px;">6,4% (FR : +30%). En particulier, le prix moyen de l'essence</span>
<span class="ln t" style="left:389.80px;top:150px;word-spacing:0.129px;">sans plomb est passé de 1 661 KRW au 1er janvier 2010 à 1</span>
<span class="ln t" style="left:389.80px;top:155px;word-spacing:0.254px;">544 KRW au 1er janvier 2020, soit une baisse de 7,0% (FR :</span>
<span class="ln t" style="left:389.80px;top:161px;letter-spacing:0.133px;">+16%).</span>
</p>
<figure>
<figcaption class="ln ct" style="left:389.80px;top:169px;width:125.80px;">Électricité et gaz (base 100)</figcaption>
<svg style="left:0;top:0" width="768" height="432" viewBox="0 0 768 432">
<path d="M397.80,172.75H509.80M397.80,183.69H509.80M397.80,194.63H509.80M397.80,205.57H509.80M397.80,216.51H509.80M397.80,172.75V216.51M408.89,172.75V216.51M419.98,172.75V216.51M431.07,172.75V216.51M442.16,172.75V216.51M453.25,172.75V216.51M464.34,172.75V216.51M475.43,172.75V216.51M486.52,172.75V216.51M497.61,172.75V216.51M509.80,172.75V216.51" fill="none" stroke="#e2e2e2" stroke-width="0.35"/>
<text x="394.90" y="173.55" font-size="2.8" fill="#4d4d4d" text-anchor="end" text-rendering="geometricPrecision">160</text>
<text x="394.90" y="184.49" font-size="2.8" fill="#4d4d4d" text-anchor="end" text-rendering="geometricPrecision">140</text>
<text x="394.90" y="195.43" font-size="2.8" fill="#4d4d4d" text-anchor="end" text-rendering="geometricPrecision">120</text>
<text x="394.90" y="206.37" font-size="2.8" fill="#4d4d4d" text-anchor="end" text-rendering="geometricPrecision">100</text>
<text x="394.90" y="217.31" font-size="2.8" fill="#4d4d4d" text-anchor="end" text-rendering="geometricPrecision">80</text>
<text x="403.35" y="219.40" font-size="2.8" fill="#4d4d4d" text-anchor="middle" text-rendering="geometricPrecision">2010</text>
<text x="414.44" y="219.40" font-size="2.8" fill="#4d4d4d" text-anchor="middle" text-rendering="geometricPrecision">2011</text>
<text x="425.53" y="219.40" font-size="2.8" fill="#4d4d4d" text-anchor="middle" text-rendering="geometricPrecision">2012</text>
<text x="436.62" y="219.40" font-size="2.8" fill="#4d4d4d" text-anchor="middle" text-rendering="geometricPrecision">2013</text>
<text x="447.71" y="219.40" font-size="2.8" fill="#4d4d4d" text-anchor="middle" text-rendering="geometricPrecision">2014</text>
<text x="458.80" y="219.40" font-size="2.8" fill="#4d4d4d" text-anchor="middle" text-rendering="geometricPrecision">2015</text>
<text x="469.88" y="219.40" font-size="2.8" fill="#4d4d4d" text-anchor="middle" text-rendering="geometricPrecision">2016</text>
<text x="480.98" y="219.40" font-size="2.8" fill="#4d4d4d" text-anchor="middle" text-rendering="geometricPrecision">2017</text>
<text x="492.06" y="219.40" font-size="2.8" fill="#4d4d4d" text-anchor="middle" text-rendering="geometricPrecision">2018</text>
<text x="503.16" y="219.40" font-size="2.8" fill="#4d4d4d" text-anchor="middle" text-rendering="geometricPrecision">2019</text>
<polyline points="397.62,205.62 399.75,205.00 401.00,201.25 402.88,199.38 406.62,198.50 411.00,195.00 414.75,194.75 419.75,191.88 423.50,191.25 427.25,190.00 431.00,187.50 434.75,188.12 438.50,188.50 441.62,187.50 443.50,186.25 447.25,187.50 448.00,190.00 450.50,189.38 453.00,187.50 455.50,190.00 459.25,189.38 463.00,191.88 466.75,194.38 469.25,196.25 472.38,195.62 475.50,191.88 478.62,189.38 481.12,191.88 483.62,194.38 486.12,191.88 488.00,188.12 490.50,187.50 492.38,185.00 494.88,181.25 497.00,176.25 499.25,178.12 501.75,180.62 504.25,182.50 506.75,184.38 509.25,185.00" fill="none" stroke="#86b5e6" stroke-width="0.5" stroke-linejoin="round" stroke-linecap="round"/>
<polyline points="397.62,205.62 403.50,205.62 406.00,202.50 411.00,202.50 414.75,200.25 422.25,200.25 427.25,198.12 429.75,197.75 433.50,195.00 438.50,195.00 441.62,192.75 447.25,192.75 448.00,189.38 451.75,188.12 455.50,190.00 459.25,188.75 463.00,187.25 468.00,186.25 473.00,186.50 478.00,186.50 483.00,185.00 489.25,185.00 495.50,184.75 501.75,184.38 503.62,180.62 505.50,180.00 509.25,179.38" fill="none" stroke="#6aa3dc" stroke-width="0.55" stroke-linejoin="round" stroke-linecap="round"/>
<polyline points="397.62,205.62 402.88,205.62 405.38,202.50 407.88,205.00 409.12,202.50 412.25,201.88 416.00,198.75 417.25,197.25 421.00,197.25 424.75,195.00 427.25,194.38 431.00,194.38 433.50,191.25 436.00,190.62 441.00,190.62 442.25,186.50 446.00,186.50 448.00,188.12 449.88,188.75 451.75,187.50 453.62,190.00 455.50,196.25 458.00,199.38 459.88,202.50 461.75,199.38 464.88,199.38 466.75,206.25 468.62,209.38 470.50,211.25 473.00,210.00 476.75,207.50 479.25,206.25 485.50,206.25 485.75,210.00 491.75,210.00 492.38,214.38 493.62,215.00 494.88,209.38 503.00,209.38 504.00,214.38 505.25,215.00 506.12,208.12 509.25,206.25" fill="none" stroke="#6f86b6" stroke-width="0.5" stroke-linejoin="round" stroke-linecap="round"/>
<polyline points="397.62,205.62 403.50,205.62 404.75,203.75 406.62,204.38 408.50,204.75 414.12,204.75 416.00,202.50 424.75,202.50 427.25,201.25 431.00,201.25 432.25,200.62 438.50,200.62 441.00,199.00 448.00,199.00 459.88,199.00 460.50,203.12 461.75,199.38 469.25,199.38 470.00,210.00 472.25,210.00 473.00,199.38 474.25,199.38 475.50,206.25 509.25,206.25" fill="none" stroke="#36578f" stroke-width="0.62" stroke-linejoin="round" stroke-linecap="round"/>
<text x="449.60" y="203.00" font-size="2.7" fill="#223e78" text-anchor="middle" font-weight="bold" text-rendering="geometricPrecision">Électricité</text>
<text x="471.50" y="185.20" font-size="2.7" fill="#5b9bd5" text-anchor="middle" text-rendering="geometricPrecision">Électricité</text>
<text x="486.90" y="181.20" font-size="3.15" fill="#5b9bd5" text-anchor="middle" font-weight="bold" text-rendering="geometricPrecision">France</text>
<text x="493.50" y="204.50" font-size="3.15" fill="#223e78" text-anchor="middle" font-weight="bold" text-rendering="geometricPrecision">Corée</text>
<text x="491.50" y="191.40" font-size="2.5" fill="#5b9bd5" text-anchor="middle" text-rendering="geometricPrecision">Gaz</text>
<text x="491.50" y="194.10" font-size="2.5" fill="#5b9bd5" text-anchor="middle" text-rendering="geometricPrecision">de ville</text>
<text x="463.00" y="208.80" font-size="2.5" fill="#7d93bd" text-anchor="middle" text-rendering="geometricPrecision">Gaz</text>
<text x="463.00" y="211.80" font-size="2.5" fill="#7d93bd" text-anchor="middle" text-rendering="geometricPrecision">de ville</text>
<text x="510.10" y="180.40" font-size="2.7" fill="#5b9bd5" text-anchor="start" text-rendering="geometricPrecision">147</text>
<text x="510.10" y="185.80" font-size="2.7" fill="#5b9bd5" text-anchor="start" text-rendering="geometricPrecision">139</text>
<text x="510.10" y="206.60" font-size="2.7" fill="#223e78" text-anchor="start" font-weight="bold" text-rendering="geometricPrecision">98</text>
<text x="510.10" y="208.90" font-size="2.7" fill="#7d93bd" text-anchor="start" text-rendering="geometricPrecision">97</text>
</svg>
</figure>
<p>
<span class="ln t" style="left:389.80px;top:226px;word-spacing:0.061px;">En 2019, l'électricité a augmenté de 0,3% et le gaz de 3,5%.</span>
<span class="ln t" style="left:389.80px;top:232px;word-spacing:0.564px;">Sur les 10 dernières années, ils ont diminué de 2-3% (FR :</span>
<span class="ln t" style="left:389.80px;top:238px;letter-spacing:0.035px;">+47% pour l'électricité et +39% pour le gaz).</span>
</p>
<svg style="left:388.80px;top:245px" width="5" height="5" viewBox="0 0 5 5"><circle cx="2.35" cy="2.6" r="1.08" fill="none" stroke="#2b4d8f" stroke-width="0.8"/></svg>
<h2 class="ln h2" style="left:396.10px;top:248px;letter-spacing:0.0px;">Les services</h2>
<p>
<span class="ln t" style="left:389.80px;top:256px;word-spacing:1.091px;">En 2019, l'inflation dans les services atteint +0,9% (FR :</span>
<span class="ln t" style="left:389.80px;top:262px;letter-spacing:0.115px;">+1,0%).</span>
</p>
<ul>
<li>
<span class="ln t" style="left:393.65px;top:269px;font-size:3.2px;color:#333;-webkit-text-stroke:0;">•</span>
<span class="ln t" style="left:397.10px;top:269px;word-spacing:0.264px;">Les prix des services collectifs ont baissé de 0,5% : frais</span>
<span class="ln t" style="left:397.10px;top:275px;word-spacing:2.478px;">de scolarité (-14% pour le lycée), crèche (-3,9%),</span>
<span class="ln t" style="left:397.10px;top:280px;word-spacing:2.406px;">communications téléphoniques (-3,3%), transport en</span>
<span class="ln t" style="left:397.10px;top:286px;letter-spacing:0.040px;">commun (+11% pour les autocars), taxis (+12%), etc.</span>
</li>
<li>
<span class="ln t" style="left:393.65px;top:294px;font-size:3.2px;color:#333;-webkit-text-stroke:0;">•</span>
<span class="ln t" style="left:397.10px;top:294px;word-spacing:0.037px;">Les prix des locations ont diminué de 0,1% : les locations</span>
<span class="ln t" style="left:397.10px;top:299px;word-spacing:-0.240px;">mensuelles de type "wolse" ont baissé de 0,4% tandis que</span>
<span class="ln t" style="left:397.10px;top:304px;letter-spacing:0.023px;">les locations de type "jeonse" ont crû de 0,2%.</span>
</li>
<li>
<span class="ln t" style="left:393.65px;top:312px;font-size:3.2px;color:#333;-webkit-text-stroke:0;">•</span>
<span class="ln t" style="left:397.10px;top:312px;word-spacing:0.071px;">Les prix des services personnels ont augmenté de 1,9% :</span>
<span class="ln t" style="left:397.10px;top:317px;word-spacing:4.277px;">restauration (+1,9%), cours particuliers (+1,6%),</span>
<span class="ln t" style="left:397.10px;top:322px;letter-spacing:0.067px;">hôtellerie (-2,2%), etc.</span>
</li>
</ul>
<figure>
<figcaption class="ln ct" style="left:389.80px;top:329px;width:125.80px;">Services</figcaption>
<svg style="left:0;top:0" width="768" height="432" viewBox="0 0 768 432">
<path d="M397.80,332.75H509.80M397.80,343.69H509.80M397.80,354.63H509.80M397.80,365.57H509.80M397.80,376.51H509.80M397.80,332.75V376.51M408.89,332.75V376.51M419.98,332.75V376.51M431.07,332.75V376.51M442.16,332.75V376.51M453.25,332.75V376.51M464.34,332.75V376.51M475.43,332.75V376.51M486.52,332.75V376.51M497.61,332.75V376.51M509.80,332.75V376.51" fill="none" stroke="#e2e2e2" stroke-width="0.35"/>
<text x="394.90" y="333.55" font-size="2.8" fill="#4d4d4d" text-anchor="end" text-rendering="geometricPrecision">120</text>
<text x="394.90" y="344.49" font-size="2.8" fill="#4d4d4d" text-anchor="end" text-rendering="geometricPrecision">115</text>
<text x="394.90" y="355.43" font-size="2.8" fill="#4d4d4d" text-anchor="end" text-rendering="geometricPrecision">110</text>
<text x="394.90" y="366.37" font-size="2.8" fill="#4d4d4d" text-anchor="end" text-rendering="geometricPrecision">105</text>
<text x="394.90" y="377.31" font-size="2.8" fill="#4d4d4d" text-anchor="end" text-rendering="geometricPrecision">100</text>
<text x="403.35" y="379.40" font-size="2.8" fill="#4d4d4d" text-anchor="middle" text-rendering="geometricPrecision">2010</text>
<text x="414.44" y="379.40" font-size="2.8" fill="#4d4d4d" text-anchor="middle" text-rendering="geometricPrecision">2011</text>
<text x="425.53" y="379.40" font-size="2.8" fill="#4d4d4d" text-anchor="middle" text-rendering="geometricPrecision">2012</text>
<text x="436.62" y="379.40" font-size="2.8" fill="#4d4d4d" text-anchor="middle" text-rendering="geometricPrecision">2013</text>
<text x="447.71" y="379.40" font-size="2.8" fill="#4d4d4d" text-anchor="middle" text-rendering="geometricPrecision">2014</text>
<text x="458.80" y="379.40" font-size="2.8" fill="#4d4d4d" text-anchor="middle" text-rendering="geometricPrecision">2015</text>
<text x="469.88" y="379.40" font-size="2.8" fill="#4d4d4d" text-anchor="middle" text-rendering="geometricPrecision">2016</text>
<text x="480.98" y="379.40" font-size="2.8" fill="#4d4d4d" text-anchor="middle" text-rendering="geometricPrecision">2017</text>
<text x="492.06" y="379.40" font-size="2.8" fill="#4d4d4d" text-anchor="middle" text-rendering="geometricPrecision">2018</text>
<text x="503.16" y="379.40" font-size="2.8" fill="#4d4d4d" text-anchor="middle" text-rendering="geometricPrecision">2019</text>
<polyline points="397.62,376.50 402.25,374.38 406.00,373.12 411.00,370.62 416.00,370.00 419.75,368.12 423.50,366.88 427.25,367.50 431.00,366.25 436.00,365.00 439.75,365.00 443.50,363.12 447.25,362.25 448.00,358.75 450.50,361.88 453.00,363.75 455.50,360.62 459.25,360.00 463.00,361.88 465.50,363.12 468.00,360.62 473.00,360.00 478.00,358.75 481.75,358.12 485.50,356.25 488.00,355.62 491.75,353.12 495.50,352.75 499.25,353.75 503.00,350.62 506.12,350.00 509.25,348.75" fill="none" stroke="#9cc0e8" stroke-width="0.4" stroke-linejoin="round" stroke-linecap="round"/>
<polyline points="397.62,376.50 401.00,374.38 403.50,373.12 406.00,371.50 408.50,368.75 411.00,366.50 413.50,365.00 416.62,362.50 419.75,361.25 422.25,360.62 424.75,359.38 427.25,358.12 429.12,358.75 431.62,357.25 434.75,356.25 437.25,356.50 440.38,355.00 443.50,353.75 447.25,353.50 448.00,354.38 450.50,354.00 453.00,352.25 456.75,351.88 460.50,352.25 463.00,351.50 466.75,350.00 470.50,349.38 474.25,348.12 477.38,345.00 480.50,344.38 483.00,342.75 485.50,345.00 488.00,341.88 491.75,341.25 494.88,339.00 497.38,341.25 500.50,340.62 503.62,339.38 505.50,340.00 507.38,338.75 509.25,339.75" fill="none" stroke="#7f93bb" stroke-width="0.4" stroke-linejoin="round" stroke-linecap="round"/>
<polyline points="397.62,376.50 401.00,374.38 404.75,373.12 407.25,373.75 409.75,370.62 412.88,368.75 415.38,369.38 416.62,371.00 419.12,368.75 422.25,366.88 426.00,365.00 427.88,367.50 430.38,365.62 433.50,364.75 436.00,363.12 438.50,364.38 441.00,362.50 444.75,361.25 447.88,357.75 449.25,357.75 451.75,358.75 455.50,356.88 458.62,355.00 460.50,354.38 461.12,358.12 464.25,356.88 468.00,355.00 470.50,352.75 472.38,355.62 476.75,354.38 480.50,352.50 481.75,350.62 484.25,353.75 488.00,351.88 491.75,349.38 493.25,346.88 495.25,350.62 499.25,349.38 503.00,347.50 504.50,343.75 506.12,347.50 509.25,346.88" fill="none" stroke="#6aa3dc" stroke-width="0.6" stroke-linejoin="round" stroke-linecap="round"/>
<polyline points="397.62,376.50 401.00,375.00 404.75,373.75 408.50,372.50 411.00,370.00 414.75,368.12 418.50,366.88 422.25,366.00 426.00,364.75 429.75,363.50 433.50,362.25 437.25,361.50 441.00,360.25 444.75,358.50 448.00,357.75 451.75,356.50 455.50,355.00 459.25,354.00 463.00,352.25 466.75,350.00 470.50,348.12 474.25,347.25 476.75,345.00 480.50,343.75 484.25,343.12 488.00,340.62 491.75,339.38 495.50,338.50 499.25,337.25 503.00,336.88 504.88,336.50 506.75,337.50 509.25,337.25" fill="none" stroke="#36578f" stroke-width="0.66" stroke-linejoin="round" stroke-linecap="round"/>
<text x="447.30" y="349.70" font-size="3.15" fill="#223e78" text-anchor="middle" font-weight="bold" text-rendering="geometricPrecision">Corée</text>
<text x="447.20" y="368.80" font-size="3.15" fill="#5b9bd5" text-anchor="middle" font-weight="bold" text-rendering="geometricPrecision">France</text>
<text x="416.00" y="362.10" font-size="2.5" fill="#7d93bd" text-anchor="middle" text-rendering="geometricPrecision">IPC</text>
<text x="481.80" y="340.80" font-size="2.7" fill="#223e78" text-anchor="middle" font-weight="bold" text-rendering="geometricPrecision">Services</text>
<text x="486.40" y="348.90" font-size="2.7" fill="#5b9bd5" text-anchor="middle" text-rendering="geometricPrecision">Services</text>
<text x="469.60" y="363.30" font-size="2.5" fill="#9dc3e6" text-anchor="middle" text-rendering="geometricPrecision">IPC</text>
<text x="495.00" y="339.20" font-size="2.5" fill="#7d93bd" text-anchor="middle" text-rendering="geometricPrecision">IPC</text>
<text x="510.10" y="337.90" font-size="2.7" fill="#223e78" text-anchor="start" font-weight="bold" text-rendering="geometricPrecision">118</text>
<text x="510.10" y="340.50" font-size="2.7" fill="#7d93bd" text-anchor="start" text-rendering="geometricPrecision">117</text>
<text x="510.10" y="347.30" font-size="2.7" fill="#5b9bd5" text-anchor="start" text-rendering="geometricPrecision">116</text>
<text x="510.10" y="350.20" font-size="2.7" fill="#9dc3e6" text-anchor="start" text-rendering="geometricPrecision">112</text>
</svg>
</figure>
<p>
<span class="ln t" style="left:389.80px;top:385px;word-spacing:1.857px;">Sur 10 ans, les prix dans le secteur des services ont</span>
<span class="ln t" style="left:389.80px;top:391px;word-spacing:0.361px;">augmenté de 18% : +4% pour les services collectifs, +23%</span>
<span class="ln t" style="left:389.80px;top:397px;letter-spacing:0.021px;">pour les locations et +23% pour les services personnels.</span>
</p>
</section>
<footer>
<div class="ln src" style="left:253.00px;top:411px;">Sources : Kostat, Kosis, Bank of Korea, Insee.</div>
<div class="ln src" style="left:389.80px;top:411px;width:125.80px;text-align:right;">Dernière mise à jour le 13/01/2020</div>
</footer>
</div>
</body>
</html>
